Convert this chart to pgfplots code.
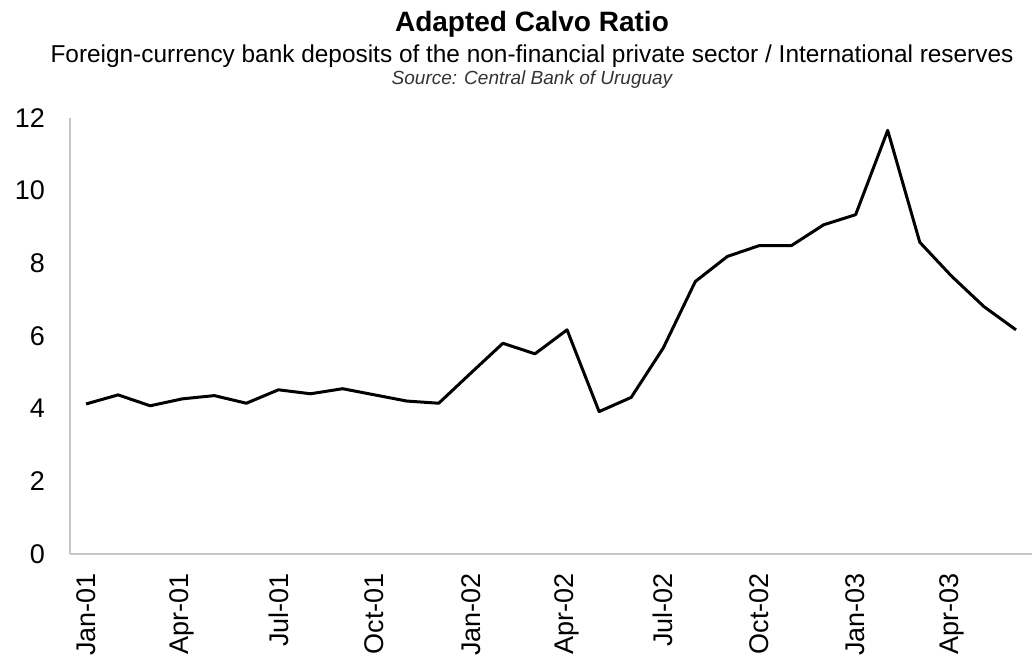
\documentclass[border=0pt]{standalone}
\usepackage{pgfplots}
\pgfplotsset{compat=1.18}
\usepackage{fontspec}
\setmainfont{Liberation Sans}
\begin{document}
\begin{tikzpicture}
\path[use as bounding box] (0,0) rectangle (516pt,-330.5pt);
\node[anchor=base,font=\fontsize{14}{16}\selectfont\bfseries,inner sep=0pt] at (266pt,-15.5pt) {Adapted Calvo Ratio};
\node[anchor=base,font=\fontsize{12.2}{14}\selectfont,inner sep=0pt] at (266pt,-31pt) {Foreign-currency bank deposits of the non-financial private sector / International reserves};
\node[anchor=base,font=\fontsize{9.5}{11}\selectfont\itshape,text=black!80,inner sep=0pt] at (266pt,-42pt) {Source: Central Bank of Uruguay};
\begin{axis}[
  at={(35pt,-277pt)}, anchor=south west,
  scale only axis, width=481pt, height=218pt,
  xmin=-0.5, xmax=29.5, ymin=0, ymax=12,
  axis x line*=bottom, axis y line*=left,
  axis line style={gray!45, line width=0.8pt, -},
  major tick length=0pt,
  xtick={0,3,...,27},
  xticklabels={Jan-01,Apr-01,Jul-01,Oct-01,Jan-02,Apr-02,Jul-02,Oct-02,Jan-03,Apr-03},
  ytick={0,2,...,12},
  tick label style={font=\fontsize{13.5}{15}\selectfont},
  /pgf/number format/assume math mode=true,
  xticklabel style={rotate=90, anchor=east, yshift=0pt, xshift=-6pt},
  yticklabel style={xshift=-9pt},
]
\addplot[black, line width=1.5pt, line join=round] coordinates {
(0,4.13) (1,4.38) (2,4.08) (3,4.27) (4,4.36) (5,4.15) (6,4.52) (7,4.41) (8,4.55) (9,4.38)
(10,4.21) (11,4.15) (12,4.98) (13,5.80) (14,5.51) (15,6.17) (16,3.92) (17,4.31) (18,5.67) (19,7.50)
(20,8.19) (21,8.49) (22,8.49) (23,9.06) (24,9.34) (25,11.66) (26,8.58) (27,7.64) (28,6.81) (29,6.17)
};
\end{axis}
\end{tikzpicture}
\end{document}
